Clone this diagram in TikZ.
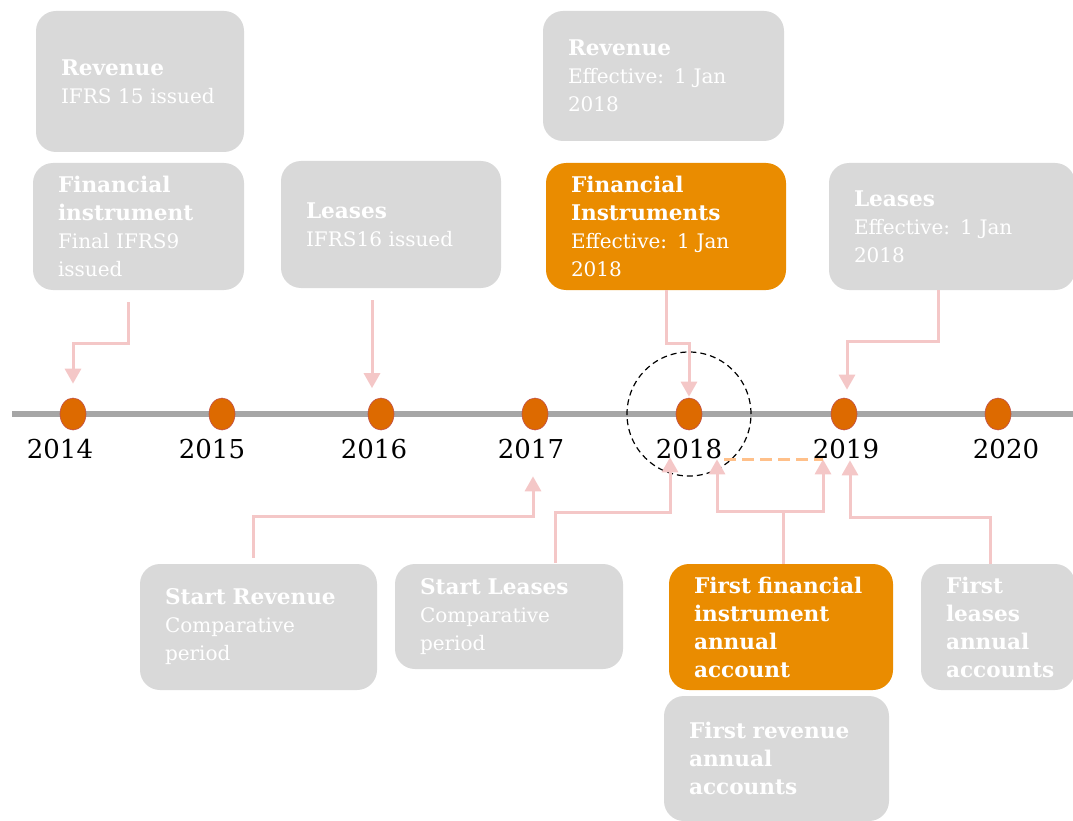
\documentclass[tikz,border=0pt]{standalone}
\usepackage{fontspec}
\setmainfont{DejaVu Serif}
\usetikzlibrary{arrows.meta, shapes.geometric, positioning, calc}

\definecolor{cardgray}{HTML}{D9D9D9}
\definecolor{cardorange}{HTML}{EA8C00}
\definecolor{dotorange}{HTML}{DD6A00}
\definecolor{dotedge}{HTML}{C0504D}
\definecolor{linkpink}{HTML}{F4C7C7}
\definecolor{axisgray}{HTML}{A6A6A6}
\definecolor{gaporange}{HTML}{FFC08A}

% card headings are set a little larger
\newcommand{\hd}[1]{{\fontsize{21.6}{28}\selectfont\bfseries #1}}

\tikzset{
  card/.style={rounded corners=20pt, fill=cardgray, text=white, align=left,
    inner xsep=25pt, inner ysep=0pt, font=\fontsize{20}{28}\selectfont},
  hotcard/.style={card, fill=cardorange},
  dims/.style 2 args={minimum width=#1pt, minimum height=#2pt,
    /utils/exec={\pgfmathsetmacro\cardtw{#1-50}}, text width=\cardtw pt},
  yeardot/.style={ellipse, fill=dotorange, draw=dotedge, line width=0.6pt,
    minimum width=26pt, minimum height=32pt, inner sep=0pt},
  yearlabel/.style={anchor=base, inner sep=0pt, font=\fontsize{26}{30}\selectfont},
  link/.style={draw=linkpink, line width=3pt, -{Triangle[width=16pt,length=15pt]}}
}

\begin{document}
\begin{tikzpicture}[x=1pt, y=-1pt]
  \useasboundingbox (0,0) rectangle (1073,821);

  % time axis
  \draw[axisgray, line width=6pt] (12,414) -- (1073,414);
  \foreach \yr/\x in {14/73, 15/222, 16/381, 17/535, 18/689, 19/844, 20/998}{
    \node[yeardot] (d\yr) at (\x,414) {};
  }
  \foreach \yr/\x in {14/60, 15/212, 16/374, 17/531, 18/689, 19/846, 20/1006}{
    \node[yearlabel] (y\yr) at (\x,458) {20\yr};
  }
  \draw[dashed, dash pattern=on 6pt off 4pt, line width=1.2pt] (d18.center) circle[radius=62pt];

  % cards above the axis
  \node[card, dims={208}{141}] (rev15) at (140,81.5) {\hd{Revenue}\\IFRS 15 issued};
  \node[card, dims={211}{127}] (fiIssued) at (138.5,226.5) {\hd{Financial}\\\hd{instrument}\\Final IFRS9\\issued};
  \node[card, dims={220}{127}] (leIssued) at (391,224.5) {\hd{Leases}\\IFRS16 issued};
  \node[card, dims={241}{130}] (revEff) at (663.5,76) {\hd{Revenue}\\Effective: 1 Jan\\2018};
  \node[hotcard, dims={240}{127}] (fiEff) at (666,226.5) {\hd{Financial}\\\hd{Instruments}\\Effective: 1 Jan\\2018};
  \node[card, dims={246}{127}] (leEff) at (952,226.5) {\hd{Leases}\\Effective: 1 Jan\\2018};

  % cards below the axis
  \node[card, dims={237}{126}] (revStart) at (258.5,627) {\hd{Start Revenue}\\Comparative\\period};
  \node[card, dims={228}{105}] (leStart) at (509,616.5) {\hd{Start Leases}\\Comparative\\period};
  \node[hotcard, dims={224}{126}] (fiFirst) at (781,627) {\hd{First financial}\\\hd{instrument}\\\hd{annual}\\\hd{account}};
  \node[card, dims={225}{125}] (revFirst) at (776.5,758.5) {\hd{First revenue}\\\hd{annual}\\\hd{accounts}};
  \node[card, dims={154}{126}] (leFirst) at (998,627) {\hd{First}\\\hd{leases}\\\hd{annual}\\\hd{accounts}};

  % links from the top
  \draw[link, shorten <=12pt, shorten >=14pt] ([xshift=-10.5pt]fiIssued.south) -- ++(0,53) -| (d14.north);
  \draw[link, shorten <=12pt] ([xshift=-19pt]leIssued.south) -- ++(0,100);
  \draw[link, shorten >=1pt] (fiEff.south) -- ++(0,53) -| (d18.north);
  \draw[link, shorten >=8pt] ([xshift=-14pt]leEff.south) -- ++(0,51) -| ([xshift=3pt]d19.north);

  % links from the bottom
  \draw[link, shorten <=6pt, shorten >=46pt] ([xshift=-5.5pt]revStart.north) -- ++(0,-47) -| ([xshift=-2pt]d17.south);
  \draw[link, shorten <=1pt, shorten >=27pt] ([xshift=46pt]leStart.north) -- ++(0,-51) -| ([xshift=-19pt]d18.south);
  \draw[link, shorten >=29pt] ([xshift=2pt]fiFirst.north) -- ++(0,-52) coordinate (fork) -| ([xshift=28pt]d18.south);
  \draw[link, shorten >=29pt] (fork) -| ([xshift=-21pt]d19.south);
  \draw[link, shorten >=30pt] ([xshift=-8pt]leFirst.north) -- ++(0,-46) -| ([xshift=6pt]d19.south);

  \draw[gaporange, line width=2.5pt, dash pattern=on 12pt off 6pt] ([xshift=35pt,yshift=-29pt]d18.south) -- ([xshift=-21pt,yshift=-29pt]d19.south);
\end{tikzpicture}
\end{document}
